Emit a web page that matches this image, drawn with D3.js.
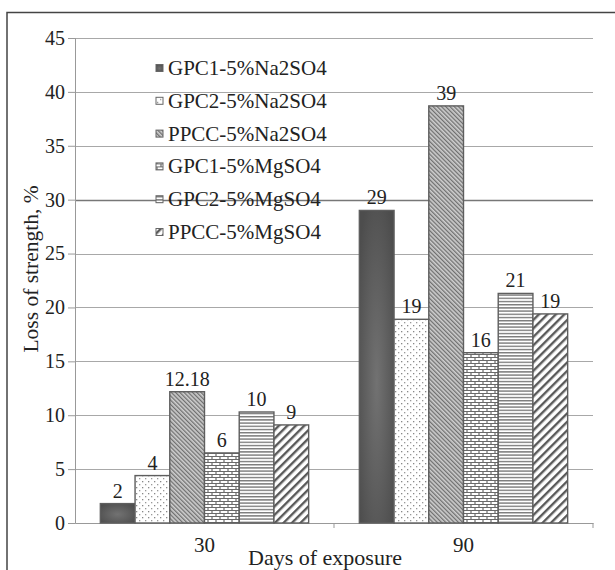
<!DOCTYPE html>
<html>
<head>
<meta charset="utf-8">
<script src="https://cdn.jsdelivr.net/npm/d3@7"></script>
<style>
  body { margin: 0; background: #fff; }
  text { font-family: "Liberation Serif", "Times New Roman", serif; fill: #222; }
</style>
</head>
<body>
<div id="chart"></div>
<script>
// data
const days = ["30", "90"];
const seriesNames = ["GPC1-5%Na2SO4", "GPC2-5%Na2SO4", "PPCC-5%Na2SO4",
                     "GPC1-5%MgSO4", "GPC2-5%MgSO4", "PPCC-5%MgSO4"];
const values30 = [1.8, 4.4, 12.18, 6.5, 10.3, 9.1];
const values90 = [29, 18.9, 38.7, 15.8, 21.3, 19.4];
const labels30 = ["2", "4", "12.18", "6", "10", "9"];
const labels90 = ["29", "19", "39", "16", "21", "19"];
const yTicks = [0, 5, 10, 15, 20, 25, 30, 35, 40, 45];

const width = 615, height = 570;
const plot = { left: 75, right: 593, top: 38, bottom: 523 };

const svg = d3.select("#chart").append("svg")
    .attr("width", width)
    .attr("height", height);

// patterns for the bar fills
const defs = svg.append("defs");

const grad = defs.append("radialGradient").attr("id", "fill0")
    .attr("cx", "50%").attr("cy", "55%").attr("r", "65%");
grad.append("stop").attr("offset", "0%").attr("stop-color", "#727272");
grad.append("stop").attr("offset", "100%").attr("stop-color", "#4d4d4d");

const dots = defs.append("pattern").attr("id", "fill1")
    .attr("patternUnits", "userSpaceOnUse").attr("width", 6).attr("height", 6);
dots.append("rect").attr("width", 6).attr("height", 6).attr("fill", "#fff");
dots.append("rect").attr("x", 1).attr("y", 1).attr("width", 1.3).attr("height", 1.3).attr("fill", "#888");
dots.append("rect").attr("x", 4).attr("y", 4).attr("width", 1.3).attr("height", 1.3).attr("fill", "#999");

const fine = defs.append("pattern").attr("id", "fill2")
    .attr("patternUnits", "userSpaceOnUse").attr("width", 3).attr("height", 3)
    .attr("patternTransform", "rotate(-45)");
fine.append("rect").attr("width", 3).attr("height", 3).attr("fill", "#cfcfcf");
fine.append("rect").attr("width", 1.3).attr("height", 3).attr("fill", "#707070");

const brick = defs.append("pattern").attr("id", "fill3")
    .attr("patternUnits", "userSpaceOnUse").attr("width", 8).attr("height", 6);
brick.append("rect").attr("width", 8).attr("height", 6).attr("fill", "#fff");
brick.append("path")
    .attr("d", "M0,0.5H8M0,3.5H8M1,0.5V3.5M5,3.5V6.5")
    .attr("stroke", "#6a6a6a").attr("stroke-width", 1.2).attr("fill", "none");

const hlines = defs.append("pattern").attr("id", "fill4")
    .attr("patternUnits", "userSpaceOnUse").attr("width", 4).attr("height", 3.2);
hlines.append("rect").attr("width", 4).attr("height", 3.2).attr("fill", "#fff");
hlines.append("rect").attr("width", 4).attr("height", 1.4).attr("fill", "#7a7a7a");

const stripes = defs.append("pattern").attr("id", "fill5")
    .attr("patternUnits", "userSpaceOnUse").attr("width", 6).attr("height", 6)
    .attr("patternTransform", "rotate(45)");
stripes.append("rect").attr("width", 6).attr("height", 6).attr("fill", "#fff");
stripes.append("rect").attr("width", 2.4).attr("height", 6).attr("fill", "#5a5a5a");

// outer frame
svg.append("rect")
    .attr("x", 7).attr("y", 12.5)
    .attr("width", 640).attr("height", 600)
    .attr("fill", "none").attr("stroke", "#444").attr("stroke-width", 1.5);

// scales
const x0 = d3.scaleBand().domain(days).range([plot.left, plot.right]);
const x1 = d3.scaleBand().domain(seriesNames).range([0, x0.bandwidth()])
    .paddingInner(0).paddingOuter(0.73);
const y = d3.scaleLinear().domain([0, 45]).range([plot.bottom, plot.top]);

// gridlines
svg.append("g").selectAll("line")
    .data(yTicks.filter(d => d > 0))
    .join("line")
    .attr("x1", plot.left).attr("x2", plot.right)
    .attr("y1", d => Math.round(y(d)) + 0.5).attr("y2", d => Math.round(y(d)) + 0.5)
    .attr("stroke", d => d === 30 ? "#777" : "#a8a8a8")
    .attr("stroke-width", d => d === 30 ? 1.6 : 1);

// y axis
const yAxis = svg.append("g")
    .attr("transform", `translate(${plot.left},0)`)
    .call(d3.axisLeft(y).tickValues(yTicks).tickSize(7).tickPadding(3));
yAxis.select(".domain").attr("stroke", "#999");
yAxis.selectAll(".tick line").attr("stroke", "#999");
yAxis.selectAll(".tick text")
    .attr("font-size", 20).attr("fill", "#222")
    .style("font-family", "'Liberation Serif', serif");

// x axis
const xAxis = svg.append("g")
    .attr("transform", `translate(0,${plot.bottom})`)
    .call(d3.axisBottom(x0).tickSize(0).tickPadding(14));
xAxis.select(".domain").attr("stroke", "#999");
xAxis.selectAll(".tick text")
    .attr("font-size", 21).attr("fill", "#222")
    .style("font-family", "'Liberation Serif', serif");
// tick marks between categories
xAxis.append("g").selectAll("line")
    .data(days)
    .join("line")
    .attr("x1", d => x0(d) + x0.bandwidth()).attr("x2", d => x0(d) + x0.bandwidth())
    .attr("y1", 0).attr("y2", 5)
    .attr("stroke", "#999");

// bars
const groups = [
  { day: "30", values: values30, labels: labels30 },
  { day: "90", values: values90, labels: labels90 }
];

groups.forEach(g => {
  const rows = seriesNames.map((s, i) => ({ s, i, v: g.values[i], label: g.labels[i] }));
  const gg = svg.append("g").attr("transform", `translate(${x0(g.day)},0)`);

  gg.selectAll("rect")
    .data(rows)
    .join("rect")
    .attr("x", d => x1(d.s))
    .attr("y", d => y(d.v))
    .attr("width", x1.bandwidth())
    .attr("height", d => y(0) - y(d.v))
    .attr("fill", d => `url(#fill${d.i})`)
    .attr("stroke", "#5e5e5e")
    .attr("stroke-width", 1.4);

  gg.selectAll("text")
    .data(rows)
    .join("text")
    .attr("x", d => x1(d.s) + x1.bandwidth() / 2)
    .attr("y", d => y(d.v) - 6)
    .attr("text-anchor", "middle")
    .attr("font-size", 20)
    .text(d => d.label);
});

// legend
const legend = svg.append("g").attr("transform", "translate(156,68)");
const item = legend.selectAll("g")
    .data(seriesNames)
    .join("g")
    .attr("transform", (d, i) => `translate(0,${i * 32.8})`);
item.append("rect")
    .attr("x", 0).attr("y", -3.5)
    .attr("width", 7).attr("height", 7)
    .attr("fill", (d, i) => `url(#fill${i})`)
    .attr("stroke", "#666").attr("stroke-width", 1);
item.append("text")
    .attr("x", 12).attr("y", 7)
    .attr("font-size", 21)
    .text(d => d);

// axis titles
svg.append("text")
    .attr("transform", "translate(38,269) rotate(-90)")
    .attr("text-anchor", "middle")
    .attr("font-size", 21.5)
    .text("Loss of strength, %");

svg.append("text")
    .attr("x", 325).attr("y", 565)
    .attr("text-anchor", "middle")
    .attr("font-size", 22)
    .text("Days of exposure");
</script>
</body>
</html>
